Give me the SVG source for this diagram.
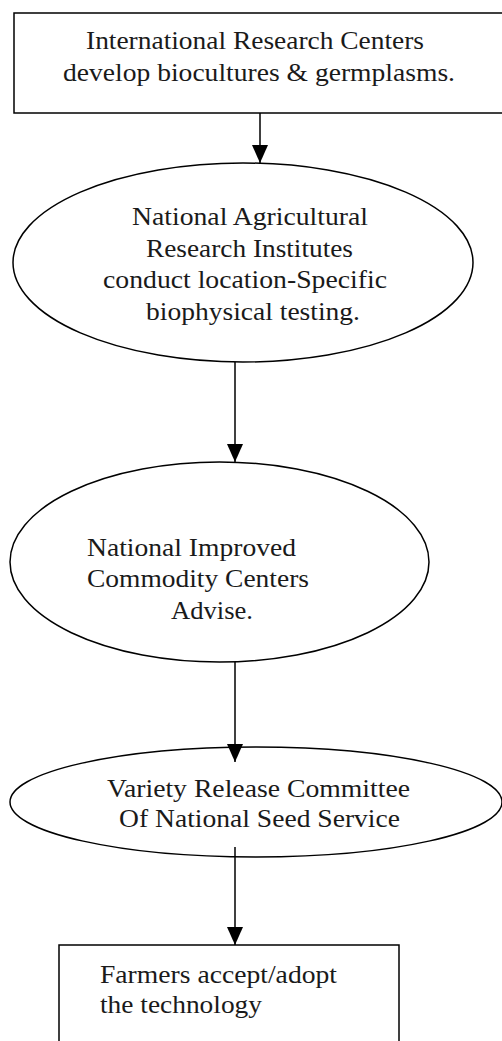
<svg xmlns="http://www.w3.org/2000/svg" width="502" height="1041" viewBox="0 0 502 1041">
<style>
.shape{fill:#fff;stroke:#000;stroke-width:1.5}
.lbl{font-family:'Liberation Serif','Times New Roman','DejaVu Serif',serif;font-size:25px;fill:#1a1a1a}
.conn{stroke:#000;stroke-width:1.5;fill:none;marker-end:url(#arr)}
</style>
<defs>
<marker id="arr" viewBox="0 0 18 16" refX="18" refY="8" markerWidth="18" markerHeight="16" markerUnits="userSpaceOnUse" orient="auto">
<path d="M0,0 L18,8 L0,16 Z" fill="#000"/>
</marker>
</defs>
<rect width="502" height="1041" fill="#fff"/>
<g id="n1">
<rect class="shape" x="14" y="13" width="500" height="100"/>
<text class="lbl" x="86" y="49" textLength="338" lengthAdjust="spacingAndGlyphs">International Research Centers</text>
<text class="lbl" x="63" y="81" textLength="392" lengthAdjust="spacingAndGlyphs">develop biocultures &amp; germplasms.</text>
</g>
<g id="n2">
<ellipse class="shape" cx="243" cy="262.5" rx="230" ry="99.5"/>
<text class="lbl" x="132" y="225" textLength="236" lengthAdjust="spacingAndGlyphs">National Agricultural</text>
<text class="lbl" x="146" y="257" textLength="207" lengthAdjust="spacingAndGlyphs">Research Institutes</text>
<text class="lbl" x="103" y="288" textLength="284" lengthAdjust="spacingAndGlyphs">conduct location-Specific</text>
<text class="lbl" x="146" y="320" textLength="214" lengthAdjust="spacingAndGlyphs">biophysical testing.</text>
</g>
<g id="n3">
<ellipse class="shape" cx="219.5" cy="562" rx="209.5" ry="100"/>
<text class="lbl" x="87" y="556" textLength="209" lengthAdjust="spacingAndGlyphs">National Improved</text>
<text class="lbl" x="87" y="587" textLength="222" lengthAdjust="spacingAndGlyphs">Commodity Centers</text>
<text class="lbl" x="171" y="619" textLength="82" lengthAdjust="spacingAndGlyphs">Advise.</text>
</g>
<g id="n4">
<ellipse class="shape" cx="256" cy="802" rx="246" ry="55"/>
<text class="lbl" x="107" y="797" textLength="303" lengthAdjust="spacingAndGlyphs">Variety Release Committee</text>
<text class="lbl" x="119" y="827" textLength="281" lengthAdjust="spacingAndGlyphs">Of National Seed Service</text>
</g>
<g id="n5">
<rect class="shape" x="59" y="945" width="340" height="110"/>
<text class="lbl" x="100" y="983" textLength="237" lengthAdjust="spacingAndGlyphs">Farmers accept/adopt</text>
<text class="lbl" x="100" y="1013" textLength="162" lengthAdjust="spacingAndGlyphs">the technology</text>
</g>
<g id="connectors">
<line class="conn" x1="260" y1="113" x2="260" y2="163"/>
<line class="conn" x1="235" y1="362" x2="235" y2="462"/>
<line class="conn" x1="235" y1="662" x2="235" y2="762"/>
<line class="conn" x1="235" y1="847" x2="235" y2="945"/>
</g>
</svg>
